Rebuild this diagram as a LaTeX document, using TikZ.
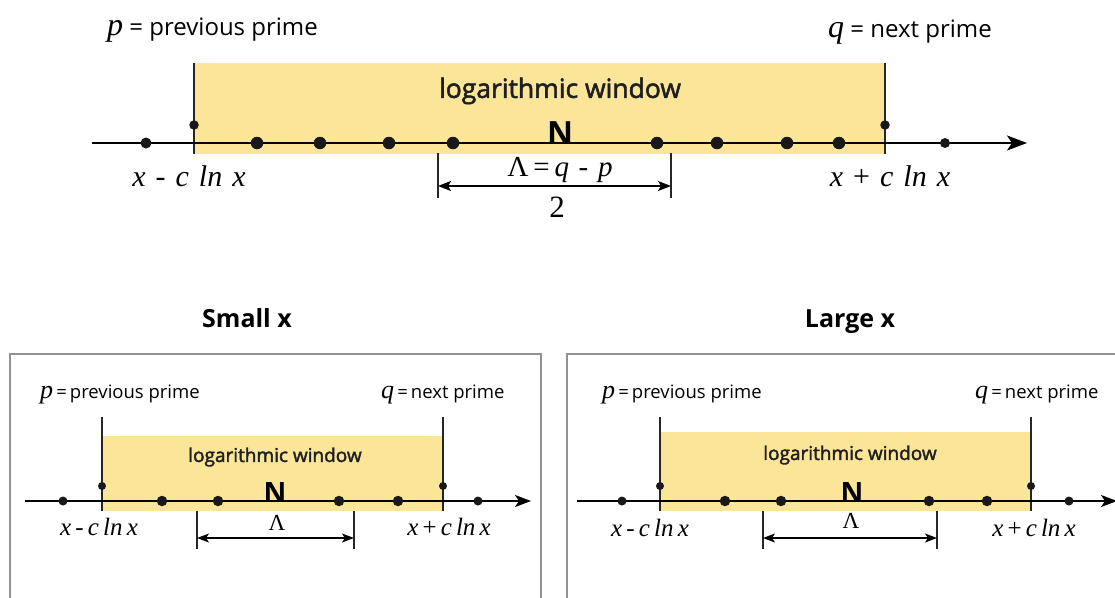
\documentclass[tikz,border=0pt]{standalone}
\usepackage{fontspec}
\setsansfont{Open Sans}
\newfontfamily\winfont{Open Sans}[FakeBold=2]
\newfontfamily\mi{Liberation Serif}
\usetikzlibrary{arrows.meta}
\definecolor{win}{RGB}{251,229,152}
\definecolor{framegray}{RGB}{145,145,145}
\begin{document}
\begin{tikzpicture}[x=1pt,y=-1pt,
  dot/.style={circle,fill=black!90,inner sep=0pt,minimum size=#1},
  dot/.default=12pt,
  axisline/.style={line width=2pt,-{Stealth[length=20pt,width=15pt,inset=5pt]}},
  axisS/.style={line width=1.8pt,-{Stealth[length=16pt,width=12pt,inset=4pt]}},
  vline/.style={line width=1.1pt,black!85},
  dimarrow/.style={line width=1.4pt,{Stealth[length=13pt,width=10pt,inset=3pt]}-{Stealth[length=13pt,width=10pt,inset=3pt]}},
  dimarrowS/.style={line width=1.3pt,{Stealth[length=12pt,width=9pt,inset=3pt]}-{Stealth[length=12pt,width=9pt,inset=3pt]}},
  framebox/.style={line width=1.6pt,framegray},
  toplab/.style={font=\sffamily\fontsize{24}{26}\selectfont,inner sep=0pt,anchor=west},
  botlab/.style={font=\sffamily\fontsize{18.5}{20}\selectfont,inner sep=0pt,anchor=west},
  wlabT/.style={font=\winfont\fontsize{26.5}{28}\selectfont,text=black!88},
  wlabB/.style={font=\winfont\fontsize{19}{21}\selectfont,text=black!88},
  NlabT/.style={font=\sffamily\bfseries\fontsize{32}{34}\selectfont,inner sep=0pt,anchor=base},
  NlabB/.style={font=\sffamily\bfseries\fontsize{28}{30}\selectfont,inner sep=0pt,anchor=base},
  mathT/.style={font=\mi\itshape\fontsize{30}{32}\selectfont,inner sep=0pt},
  mathB/.style={font=\mi\itshape\fontsize{25}{27}\selectfont,inner sep=0pt},
  title/.style={font=\sffamily\bfseries\fontsize{25}{27}\selectfont,anchor=base}
]
\useasboundingbox (0,0) rectangle (1115,597);
\clip (0,0) rectangle (1115,597);

% ===== Top panel =====
\fill[win] (193,63) rectangle (885,154);
\coordinate (tp1) at (194,63); \coordinate (bp1) at (194,154);
\coordinate (tq1) at (885,63); \coordinate (bq1) at (885,154);
\draw[vline] (tp1) -- (bp1);
\draw[vline] (tq1) -- (bq1);
\coordinate (as1) at (92,143); \coordinate (ae1) at (1027,143);
\draw[axisline] (as1) -- (ae1);
\node[dot=11pt] (l1) at (146,143) {};
\foreach \x/\n in {257/a,320/b,389/c,453/d,657/e,717/f,787/g,839/h}
  \node[dot=12.5pt] (t\n) at (\x,143) {};
\node[dot=10pt] (r1) at (945,143) {};
\node[dot=9.5pt] (p1) at (194,125) {};
\node[dot=9.5pt] (q1) at (885,125) {};
\node[toplab] (plab1) at (107,30) {{\mi\itshape\fontsize{32}{34}\selectfont p} = previous prime};
\node[toplab] (qlab1) at (828,32) {{\mi\itshape\fontsize{32}{34}\selectfont q} = next prime};
\node[wlabT] (w1) at (560,91) {logarithmic window};
\node[NlabT] (N1) at (560,144) {N};
\node[mathT] (xm1) at (189,176) {x\,\,-\,\,c\,\,ln\,\,x};
\node[mathT] (xp1) at (890,176) {x\,\,\upshape+\,\,\itshape c\,\,ln\,\,x};
\node[font=\mi\fontsize{29}{31}\selectfont,inner sep=0pt] (lam1) at (560,170) {Λ\,=\,\textit{q\,\,-\,\,p}};
\node[font=\mi\fontsize{31}{33}\selectfont,inner sep=0pt] (two1) at (557,207) {2};
\coordinate (k1t) at (438,153); \coordinate (k1b) at (438,198);
\coordinate (k2t) at (671,153); \coordinate (k2b) at (671,198);
\draw[vline] (k1t) -- (k1b);
\draw[vline] (k2t) -- (k2b);
\coordinate (m1a) at (438,186); \coordinate (m1b) at (671,186);
\draw[dimarrow] (m1a) -- (m1b);

% ===== Titles =====
\node[title] (ts) at (247,327) {Small x};
\node[title] (tl) at (850,327) {Large x};

% ===== Frames =====
\coordinate (fa1) at (10,605); \coordinate (fa2) at (10,354);
\coordinate (fa3) at (541,354); \coordinate (fa4) at (541,605);
\draw[framebox] (fa1) -- (fa2) -- (fa3) -- (fa4);
\coordinate (fb1) at (567,605); \coordinate (fb2) at (567,354);
\coordinate (fb3) at (1125,354);
\draw[framebox] (fb1) -- (fb2) -- (fb3);

% ===== Left panel (small x) =====
\fill[win] (102,436) rectangle (443,511);
\coordinate (tp2) at (102,417); \coordinate (bp2) at (102,511);
\coordinate (tq2) at (443,417); \coordinate (bq2) at (443,511);
\draw[vline] (tp2) -- (bp2);
\draw[vline] (tq2) -- (bq2);
\coordinate (as2) at (25,501); \coordinate (ae2) at (531,501);
\draw[axisS] (as2) -- (ae2);
\node[dot=9pt] (l2) at (63,501) {};
\foreach \x/\n in {162/a,218/b,339/c,398/d}
  \node[dot=10.5pt] (s\n) at (\x,501) {};
\node[dot=9pt] (r2) at (478,501) {};
\node[dot=8pt] (p2) at (102,486) {};
\node[dot=8pt] (q2) at (443,486) {};
\node[botlab] (plab2) at (40,394) {{\mi\itshape\fontsize{26}{28}\selectfont p}\,=\,previous prime};
\node[botlab] (qlab2) at (381,394) {{\mi\itshape\fontsize{26}{28}\selectfont q}\,=\,next prime};
\node[wlabB] (w2) at (275,457) {logarithmic window};
\node[NlabB] (N2) at (275,502) {N};
\node[font=\mi\fontsize{23}{25}\selectfont,inner sep=0pt] (lam2) at (277,523) {Λ};
\node[mathB] (xm2) at (99,527) {x\,-\,c\,ln\,x};
\node[mathB] (xp2) at (449,527) {x\,\upshape+\,\itshape c\,ln\,x};
\coordinate (k3t) at (197,511); \coordinate (k3b) at (197,549);
\coordinate (k4t) at (354,511); \coordinate (k4b) at (354,549);
\draw[vline] (k3t) -- (k3b);
\draw[vline] (k4t) -- (k4b);
\coordinate (m2a) at (197,538); \coordinate (m2b) at (354,538);
\draw[dimarrowS] (m2a) -- (m2b);

% ===== Right panel (large x) =====
\fill[win] (660,432) rectangle (1031,511);
\coordinate (tp3) at (660,417); \coordinate (bp3) at (660,511);
\coordinate (tq3) at (1031,417); \coordinate (bq3) at (1031,511);
\draw[vline] (tp3) -- (bp3);
\draw[vline] (tq3) -- (bq3);
\coordinate (as3) at (577,501); \coordinate (ae3) at (1117,501);
\draw[axisS] (as3) -- (ae3);
\node[dot=9pt] (l3) at (622,501) {};
\foreach \x/\n in {725/a,781/b,929/c,987/d}
  \node[dot=10.5pt] (g\n) at (\x,501) {};
\node[dot=9pt] (r3) at (1069,501) {};
\node[dot=8pt] (p3) at (660,486) {};
\node[dot=8pt] (q3) at (1031,486) {};
\node[botlab] (plab3) at (602,394) {{\mi\itshape\fontsize{26}{28}\selectfont p}\,=\,previous prime};
\node[botlab] (qlab3) at (975,394) {{\mi\itshape\fontsize{26}{28}\selectfont q}\,=\,next prime};
\node[wlabB] (w3) at (850,455) {logarithmic window};
\node[NlabB] (N3) at (852,502) {N};
\node[font=\mi\fontsize{23}{25}\selectfont,inner sep=0pt] (lam3) at (851,521) {Λ};
\node[mathB] (xm3) at (650,528) {x\,-\,c\,ln\,x};
\node[mathB] (xp3) at (1034,528) {x\,\upshape+\,\itshape c\,ln\,x};
\coordinate (k5t) at (763,511); \coordinate (k5b) at (763,549);
\coordinate (k6t) at (937,511); \coordinate (k6b) at (937,549);
\draw[vline] (k5t) -- (k5b);
\draw[vline] (k6t) -- (k6b);
\coordinate (m3a) at (763,538); \coordinate (m3b) at (937,538);
\draw[dimarrowS] (m3a) -- (m3b);
\end{tikzpicture}
\end{document}
